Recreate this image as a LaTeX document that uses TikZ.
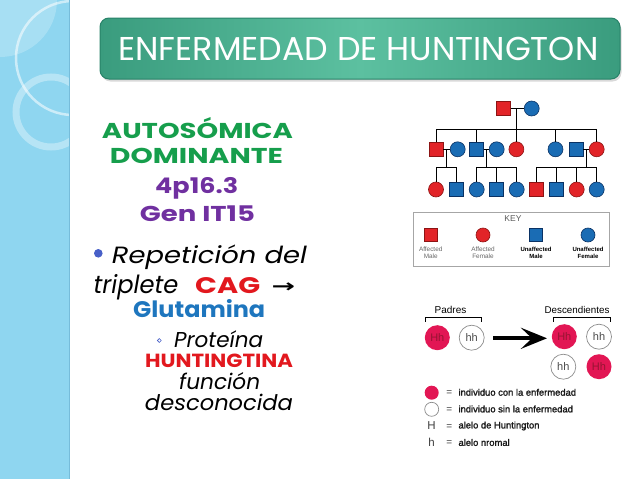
\documentclass[tikz,border=0pt]{standalone}
\usepackage{fontspec}
\setmainfont{Poppins}
\newfontfamily\arialf{Liberation Sans}
\newfontfamily\arialsb[FakeBold=1.5]{Liberation Sans}
\newfontfamily\dejavu{DejaVu Sans}
\usetikzlibrary{arrows.meta,shadows}
\definecolor{stripblue}{RGB}{143,214,240}
\definecolor{stripedge}{RGB}{118,188,218}
\definecolor{tealL}{RGB}{58,156,126}
\definecolor{tealM}{RGB}{92,192,160}
\definecolor{tealB}{RGB}{40,130,104}
\definecolor{gr}{RGB}{22,158,76}
\definecolor{pu}{RGB}{112,48,160}
\definecolor{rd}{RGB}{226,24,30}
\definecolor{bl}{RGB}{30,118,190}
\definecolor{bul}{RGB}{72,96,200}
\definecolor{pedred}{RGB}{226,36,40}
\definecolor{pedredD}{RGB}{140,20,20}
\definecolor{pedblue}{RGB}{26,108,180}
\definecolor{pedblueD}{RGB}{10,50,100}
\definecolor{crim}{RGB}{226,22,84}
\definecolor{crimT}{RGB}{150,20,50}
\newcommand{\fitw}[2]{\resizebox{#1pt}{\height}{#2}}
\tikzset{
  am/.style={draw=pedredD,fill=pedred,minimum size=14pt,inner sep=0pt,line width=0.6pt},
  um/.style={draw=pedblueD,fill=pedblue,minimum size=14pt,inner sep=0pt,line width=0.6pt},
  af/.style={circle,draw=pedredD,fill=pedred,minimum size=15pt,inner sep=0pt,line width=0.6pt},
  uf/.style={circle,draw=pedblueD,fill=pedblue,minimum size=15pt,inner sep=0pt,line width=0.6pt},
  ped/.style={line width=1pt,black},
  keytxt/.style={font=\arialf\fontsize{6.4}{7.2}\selectfont,align=center,text=black!60},
  keytxtb/.style={font=\arialf\bfseries\fontsize{6}{7.2}\selectfont,align=center,text=black},
  gH/.style={circle,fill=crim,minimum size=25pt,inner sep=0pt,font=\arialf\fontsize{11}{12}\selectfont,text=crimT},
  gh/.style={circle,draw=black!45,fill=white,minimum size=25pt,inner sep=0pt,line width=0.7pt,font=\arialf\fontsize{11}{12}\selectfont,text=black!70},
  lgt/.style={font=\arialsb\fontsize{9.4}{10}\selectfont,text=black!90,anchor=west,inner sep=0pt},
  lft/.style={anchor=base,inner sep=0pt},
  lftw/.style={anchor=base west,inner sep=0pt},
}
\begin{document}
\begin{tikzpicture}[x=1pt,y=-1pt]
\useasboundingbox (0,0) rectangle (638,479);
% left strip
\fill[stripblue] (0,0) rectangle (69,479);
\begin{scope}
\clip (0,0) rectangle (69,479);
\fill[white,opacity=.22] (0,0) circle (57);
\draw[white,opacity=.55,line width=2.5pt] (73,58) circle (57);
\draw[white,opacity=.35,line width=7pt] (51,112) circle (35);
\end{scope}
\draw[stripedge,line width=1.5pt] (69.5,0) -- (69.5,479);
% title bar
\node[rounded corners=9pt,minimum width=520pt,minimum height=61pt,draw=tealB,line width=1pt,
  left color=tealL,right color=tealL,middle color=tealM,
  drop shadow={shadow xshift=1.5pt,shadow yshift=-2.5pt,opacity=.3}] (title) at (360,48.5) {};
\node[lft,text=white,font=\fontsize{33}{36}\selectfont] (titlet) at (358.5,60) {\fitw{480}{ENFERMEDAD DE HUNTINGTON}};
% left text
\node[lft,text=gr,font=\bfseries\fontsize{21.5}{24}\selectfont] (t1) at (197.5,138.3) {\fitw{191}{AUTOSÓMICA}};
\node[lft,text=gr,font=\bfseries\fontsize{21.5}{24}\selectfont] (t2) at (196.5,163.3) {\fitw{173}{DOMINANTE}};
\node[lft,text=pu,font=\bfseries\fontsize{21.5}{24}\selectfont] (t3) at (196.7,193.3) {\fitw{83}{4p16.3}};
\node[lft,text=pu,font=\bfseries\fontsize{21.5}{24}\selectfont] (t4) at (197.5,221.7) {\fitw{115}{Gen IT15}};
\fill[bul] (98.3,253.3) circle (4.3);
\node[lftw,font=\itshape\fontsize{23.5}{26}\selectfont] (t5) at (111.7,263.3) {\fitw{195}{Repetición del}};
\node[lftw,font=\itshape\fontsize{25}{28}\selectfont] (t6) at (93.3,293.3) {\fitw{85}{triplete}};
\node[lftw,text=rd,font=\bfseries\fontsize{22.5}{26}\selectfont] (t6b) at (195,293.3) {\fitw{65}{CAG}};
\node[inner sep=0pt,font=\dejavu\bfseries\fontsize{18}{20}\selectfont] (t6c) at (283.3,287.5) {\fitw{23.5}{→}};
\node[lft,text=bl,font=\bfseries\fontsize{22.5}{24}\selectfont] (t7) at (199.2,317.3) {\fitw{132}{Glutamina}};
\draw[bul,line width=0.6pt] (159.3,340.5) circle (1.9);
\node[lftw,font=\itshape\fontsize{21.5}{24}\selectfont] (t8) at (174,347.5) {\fitw{89}{Proteína}};
\node[lft,text=rd,font=\bfseries\fontsize{19}{21}\selectfont] (t9) at (219,367.5) {\fitw{148}{HUNTINGTINA}};
\node[lft,font=\itshape\fontsize{21.5}{24}\selectfont] (t10) at (219.7,389.5) {\fitw{81}{función}};
\node[lft,font=\itshape\fontsize{21.5}{24}\selectfont] (t11) at (219,410.5) {\fitw{148}{desconocida}};
% pedigree
\node[am] (p1) at (503.5,108.5) {};
\node[uf] (p2) at (531.7,108.5) {};
\node[am] (a1) at (436,149.3) {};
\node[uf] (a2) at (457.7,149.3) {};
\node[um] (a3) at (476.4,149.3) {};
\node[uf] (a4) at (496.7,149.3) {};
\node[af] (a5) at (516.4,149.3) {};
\node[uf] (a6) at (555.5,149.3) {};
\node[um] (a7) at (576,149.3) {};
\node[af] (a8) at (596.7,149.3) {};
\node[af] (c1) at (436,189.5) {};
\node[um] (c2) at (456.7,189.5) {};
\node[uf] (c3) at (476.7,189.5) {};
\node[um] (c4) at (496.7,189.5) {};
\node[uf] (c5) at (516.7,189.5) {};
\node[am] (c6) at (536,189.5) {};
\node[um] (c7) at (556,189.5) {};
\node[af] (c8) at (576.7,189.5) {};
\node[uf] (c9) at (596.7,189.5) {};
\coordinate (m1) at (516,108.5);
\coordinate (b1) at (516,129.3);
\coordinate (m2) at (446.8,149.3);
\coordinate (b2) at (446.8,167.7);
\coordinate (m3) at (486.5,149.3);
\coordinate (b3) at (486.5,167.7);
\coordinate (m4) at (586.3,149.3);
\coordinate (b4) at (586.3,167.7);
\draw[ped] (p1.east) -- (p2.west);
\draw[ped] (m1) -- (b1);
\foreach \k in {a1,a3,a5,a6,a8} \draw[ped] (\k.north) |- (b1);
\draw[ped] (a1.east) -- (a2.west);
\draw[ped] (m2) -- (b2);
\foreach \k in {c1,c2} \draw[ped] (\k.north) |- (b2);
\draw[ped] (a3.east) -- (a4.west);
\draw[ped] (m3) -- (b3);
\foreach \k in {c3,c4,c5} \draw[ped] (\k.north) |- (b3);
\draw[ped] (a7.east) -- (a8.west);
\draw[ped] (m4) -- (b4);
\foreach \k in {c6,c7,c8,c9} \draw[ped] (\k.north) |- (b4);
% key
\node[draw=black!35,line width=0.6pt,minimum width=196pt,minimum height=54pt,inner sep=0pt] (key) at (511,239) {};
\node[font=\arialf\fontsize{8.5}{9}\selectfont,text=black!65] (keyt) at (513,219) {KEY};
\node[am,minimum size=13pt] (k1) at (430.7,235) {};
\node[af,minimum size=14pt] (k2) at (483,235) {};
\node[um,minimum size=13pt] (k3) at (536,235) {};
\node[uf,minimum size=14pt] (k4) at (588,235) {};
\node[keytxt] (kl1) at (430.7,253) {Affected\\Male};
\node[keytxt] (kl2) at (483,253) {Affected\\Female};
\node[keytxtb] (kl3) at (536,253) {Unaffected\\Male};
\node[keytxtb] (kl4) at (588,253) {Unaffected\\Female};
% genetics
\node[font=\arialf\fontsize{10}{11}\selectfont] (padres) at (450.5,310) {Padres};
\draw[line width=0.7pt] (425,321.5) -- (425,317.7) -- (481.7,317.7) -- (481.7,321.5);
\node[font=\arialf\fontsize{9.8}{11}\selectfont] (desc) at (577,310) {Descendientes};
\draw[line width=0.7pt] (553,321.5) -- (553,317.7) -- (610.7,317.7) -- (610.7,321.5);
\node[gH] (g1) at (437.3,337.7) {Hh};
\node[gh] (g2) at (471.7,337.7) {hh};
\node[gH] (d1) at (564.3,336.7) {Hh};
\node[gh] (d2) at (599,336.7) {hh};
\node[gh] (d3) at (563.3,366.7) {hh};
\node[gH] (d4) at (599,366.7) {Hh};
\coordinate (arS) at (493,338.3);
\coordinate (arE) at (547,338.3);
\draw[line width=4pt,-{Stealth[length=26pt,width=21pt,inset=11pt]}] (arS) -- (arE);
\node[circle,fill=crim,minimum size=14pt,inner sep=0pt] (l1) at (431.7,392.7) {};
\node[circle,draw=black!45,fill=white,minimum size=14pt,inner sep=0pt,line width=0.7pt] (l2) at (431.7,409.3) {};
\node[font=\arialf\fontsize{11.5}{12}\selectfont,text=black!75] (l3) at (431.5,426) {H};
\node[font=\arialf\fontsize{11.5}{12}\selectfont,text=black!75] (l4) at (431.5,442.7) {h};
\foreach \y/\n in {393/e1,410/e2,427/e3,443/e4} \node[font=\arialf\fontsize{10}{10}\selectfont,text=black!75] (\n) at (449.3,\y) {=};
\node[lgt] (x1) at (458.3,392.3) {individuo con la enfermedad};
\node[lgt] (x2) at (458.3,409) {individuo sin la enfermedad};
\node[lgt] (x3) at (458.3,426) {alelo de Huntington};
\node[lgt] (x4) at (458.3,442.5) {alelo nromal};
\end{tikzpicture}
\end{document}
